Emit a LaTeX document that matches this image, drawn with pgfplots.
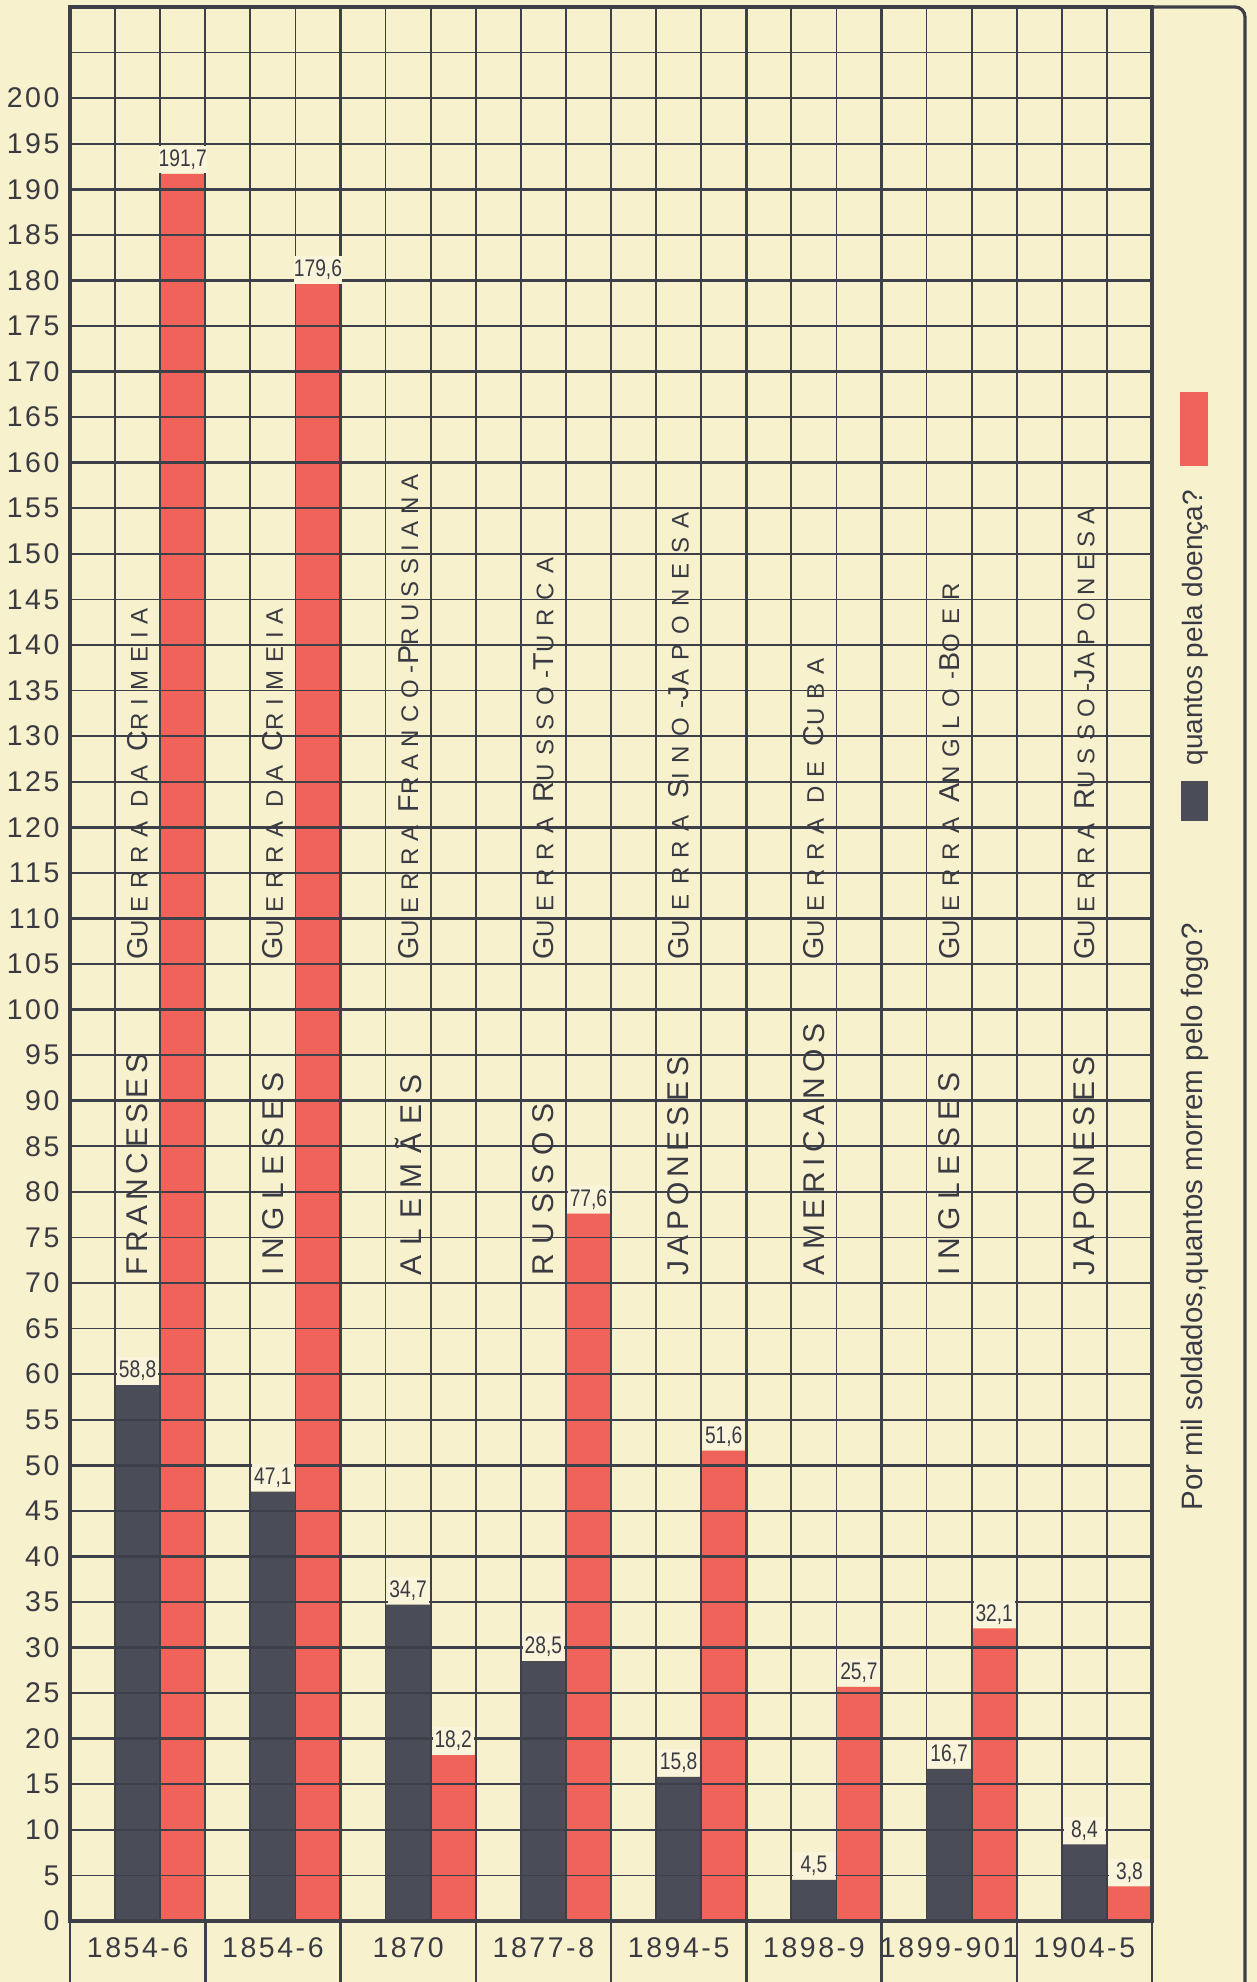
\documentclass[border=0pt]{standalone}
\usepackage{fontspec}
\setmainfont{Liberation Sans}
\newfontfamily\tickfont{Liberation Sans}[LetterSpace=9]
\newfontfamily\namefont{Liberation Sans}
\usepackage{graphicx}
\usepackage{pgfplots}
\pgfplotsset{compat=1.18}
\definecolor{bgcol}{HTML}{F8F1CE}
\definecolor{lblbg}{HTML}{FAF5DA}
\definecolor{redbar}{HTML}{F0635A}
\definecolor{darkbar}{HTML}{4A4D58}
\definecolor{gridcol}{HTML}{3D3F49}
\definecolor{txtcol}{HTML}{3A3B42}
\newcommand{\B}[1]{{\fontsize{11.5}{12}\selectfont #1}}
\newcommand{\vname}[3]{\node[rotate=90,anchor=west,inner sep=0pt,text=txtcol,font=\namefont\fontsize{12}{12}\selectfont] at (axis cs:#1,70.8) {\addfontfeature{LetterSpace=#2}#3};}
\newcommand{\vwar}[3]{\node[rotate=90,anchor=west,inner sep=0pt,text=txtcol,font=\namefont\fontsize{9.6}{10}\selectfont] at (axis cs:#1,105.4) {\addfontfeature{LetterSpace=#2}#3};}
\begin{document}
\begin{tikzpicture}[x=1pt,y=1pt]
\fill[bgcol] (-28,-24.4) rectangle (474.8,768.4);
\begin{axis}[
  at={(0pt,0pt)}, anchor=south west,
  scale only axis, width=432.8pt, height=765.6pt,
  xmin=0, xmax=24, ymin=0, ymax=210,
  enlargelimits=false, clip=false,
  axis line style={draw=none},
  tick style={draw=none}, major tick length=0pt,
  ytick={0,5,...,200},
  xtick={1.5,4.5,...,22.5},
  xticklabels={1854-6,1854-6,1870,1877-8,1894-5,1898-9,1899-901,1904-5},
  /pgf/number format/assume math mode=true,
  yticklabel style={font=\tickfont\fontsize{11.4}{12}\selectfont, text=txtcol, anchor=east, inner sep=0pt, xshift=-4pt},
  xticklabel style={font=\tickfont\fontsize{11.4}{12}\selectfont, text=txtcol, anchor=center, inner sep=0pt, yshift=-10.8pt},
]
% bars
\addplot[ybar, bar width=1, bar shift=0pt, fill=darkbar, draw=none] coordinates {(1.5,58.8) (4.5,47.1) (7.5,34.7) (10.5,28.5) (13.5,15.8) (16.5,4.5) (19.5,16.7) (22.5,8.4)};
\addplot[ybar, bar width=1, bar shift=0pt, fill=redbar, draw=none] coordinates {(2.5,191.7) (5.5,179.6) (8.5,18.2) (11.5,77.6) (14.5,51.6) (17.5,25.7) (20.5,32.1) (23.5,3.8)};
% grid on top of bars
\pgfplotsinvokeforeach{5,15,...,205}{\draw[gridcol,line width=0.7pt] (axis cs:0,#1) -- (axis cs:24,#1);}
\pgfplotsinvokeforeach{10,20,...,200}{\draw[gridcol,line width=1.0pt] (axis cs:0,#1) -- (axis cs:24,#1);}
\pgfplotsinvokeforeach{1,2,4,5,7,8,10,11,13,14,16,17,19,20,22,23}{\draw[gridcol,line width=0.7pt] (axis cs:#1,0) -- (axis cs:#1,210);}
\pgfplotsinvokeforeach{3,6,9,12,15,18,21}{\draw[gridcol,line width=1.0pt] (axis cs:#1,0) -- (axis cs:#1,210);}
\draw[gridcol,line width=1.3pt] (axis cs:0,0) rectangle (axis cs:24,210);
% vertical names
\vname{1.5}{16}{FRANCESES}
\vname{4.5}{25}{INGLESES}
\vname{7.5}{33}{ALEMÃES}
\vname{10.5}{30}{RUSSOS}
\vname{13.5}{16}{JAPONESES}
\vname{16.5}{18.5}{AMERICANOS}
\vname{19.5}{25}{INGLESES}
\vname{22.5}{16}{JAPONESES}
\vwar{1.5}{33}{\B{G}UERRA DA \B{C}RIMEIA}
\vwar{4.5}{33}{\B{G}UERRA DA \B{C}RIMEIA}
\vwar{7.5}{29}{\B{G}UERRA \B{F}RANCO-\B{P}RUSSIANA}
\vwar{10.5}{37}{\B{G}UERRA \B{R}USSO-\B{T}URCA}
\vwar{13.5}{40}{\B{G}UERRA \B{S}INO-\B{J}APONESA}
\vwar{16.5}{36}{\B{G}UERRA DE \B{C}UBA}
\vwar{19.5}{37}{\B{G}UERRA \B{A}NGLO-\B{B}OER}
\vwar{22.5}{31}{\B{G}UERRA \B{R}USSO-\B{J}APONESA}
% value labels
\pgfplotsset{lbl/.style={ybar, bar width=1, bar shift=0pt, draw=none, fill=none, point meta=y,
  nodes near coords={\scalebox{0.8}[1]{\pgfmathprintnumber[fixed,fixed zerofill,precision=1,use comma,assume math mode=true]{\pgfplotspointmeta}}},
  every node near coord/.append style={anchor=south, fill=lblbg, inner xsep=0pt, inner ysep=1.5pt, minimum width=16.5pt, text=txtcol, font=\fontsize{9.6}{10}\selectfont}}}
\addplot[lbl] coordinates {(1.5,58.8) (4.5,47.1) (7.5,34.7) (10.5,28.5) (13.5,15.8) (16.5,4.5) (19.5,16.7) (22.5,8.4)};
\addplot[lbl] coordinates {(2.5,191.7) (5.5,179.6) (8.5,18.2) (11.5,77.6) (14.5,51.6) (17.5,25.7) (20.5,32.1) (23.5,3.8)};
\end{axis}
% category row lines
\foreach \i in {0,...,8} \draw[gridcol,line width=1.0pt] (\i*54.1,0) -- (\i*54.1,-30);
% legend panel
\draw[gridcol,line width=1.3pt,rounded corners=4pt] (432.8,765.6) -- (470,765.6) -- (470,-30);
\node[rotate=90,anchor=west,inner sep=0pt,text=txtcol,font=\fontsize{11.8}{12}\selectfont] at (450,164) {Por mil soldados,quantos morrem pelo fogo?};
\fill[darkbar] (444.5,440) rectangle (455.2,456);
\node[rotate=90,anchor=west,inner sep=0pt,text=txtcol,font=\fontsize{11.2}{12}\selectfont] at (450,462) {quantos pela doença?};
\fill[redbar] (444,582) rectangle (455.2,611.6);
\pgfresetboundingbox
\path[use as bounding box] (-28,-24.4) rectangle (474.8,768.4);
\end{tikzpicture}
\end{document}
